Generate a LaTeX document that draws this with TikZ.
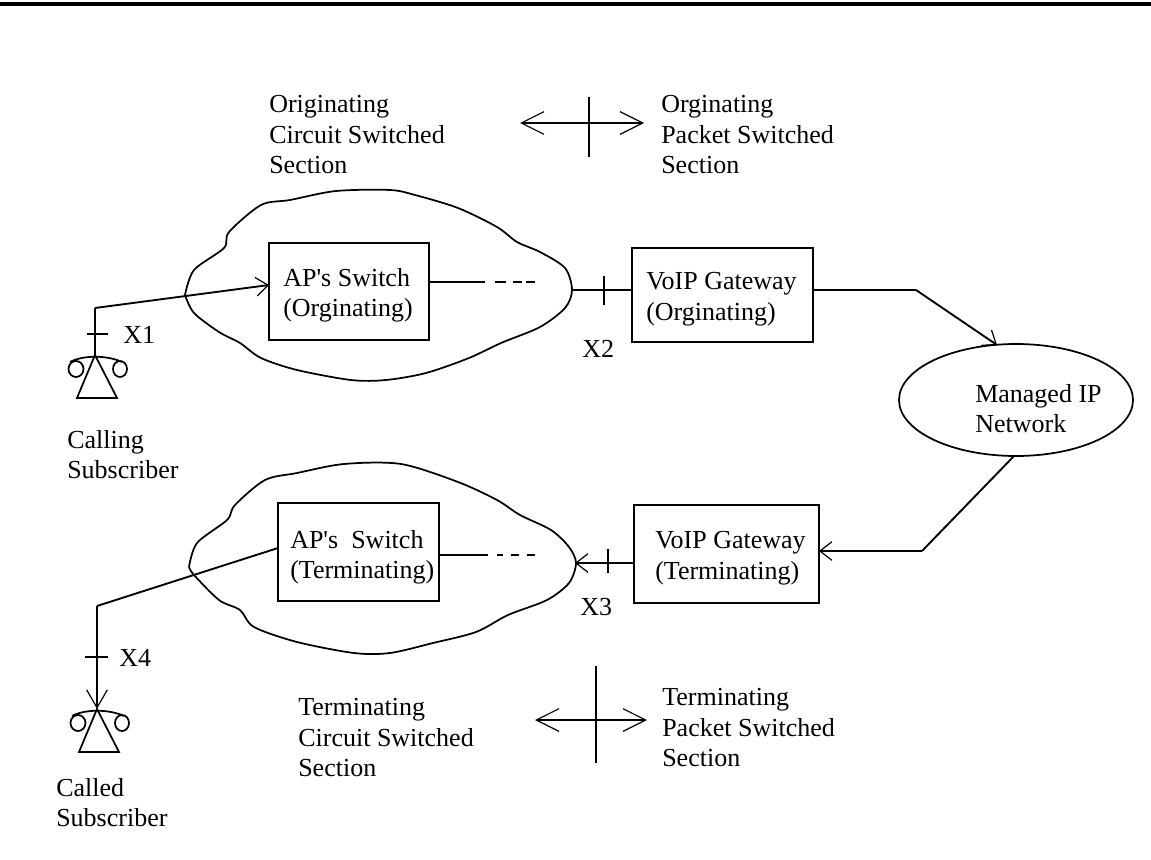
\documentclass[tikz,border=0pt]{standalone}
\usepackage{fontspec}
\setmainfont{Liberation Serif}[Ligatures=TeXOff]
\usetikzlibrary{arrows.meta}
\tikzset{
  x=0.75pt,y=-0.75pt,
  lbl/.style={inner sep=0pt,align=left,anchor=north west,font=\fontsize{19.5}{23}\selectfont},
  boxed/.style={draw,line width=1.5pt,inner sep=0pt,outer sep=0pt,anchor=north west},
  wire/.style={line width=1.4pt},
  tip/.style={-{Straight Barb[length=9pt,width=14pt,line width=0.9pt]}},
  bigtip/.style={-{Straight Barb[length=13.5pt,width=15.5pt,line width=0.9pt]}},
  sectip/.style={{Straight Barb[length=17pt,width=17pt,line width=0.9pt]}-{Straight Barb[length=17pt,width=17pt,line width=0.9pt]}},
  blob/.style={line width=1.3pt,line join=round},
  phonecirc/.style={line width=1.3pt}
}
\newcommand{\phone}[2]{%
  \draw[phonecirc] (#1,#2) -- (#1-18,#2+43) -- (#1+22,#2+43) -- cycle;
  \draw[phonecirc] (#1-25,#2+7) .. controls (#1-12,#2) and (#1+12,#2) .. (#1+27,#2+7);
  \draw[phonecirc] (#1-19,#2+14) ellipse[x radius=7.5,y radius=8];
  \draw[phonecirc] (#1+25,#2+14) ellipse[x radius=7,y radius=8];
}
\begin{document}
\begin{tikzpicture}
\useasboundingbox (0,0) rectangle (1151,859);
\fill[white] (0,0) rectangle (1151,859);
\draw[line width=3pt] (0,4.5) -- (1151,4.5);

% clouds
\draw[blob] plot[smooth,tension=0.5] coordinates {(185,295)(194,270)(224,248)(229,232)(261,205)(290,200)(336,191)(390,190)(415,195)(458,208)(497,227)(517,242)(540,252)(565,268)(572,290)(565,308)(540,327)(501,343)(469,358)(426,373)(386,380)(351,380)(297,370)(261,358)(240,343)(219,332)(194,313)(185,295)};
\draw[blob] plot[smooth,tension=0.5] coordinates {(189,567)(197,543)(227,520)(235,505)(265,480)(297,473)(344,464)(401,464)(458,482)(497,500)(520,515)(551,530)(569,547)(576,563)(569,583)(547,600)(508,615)(476,632)(433,643)(390,653)(354,653)(297,642)(254,627)(240,610)(219,600)(194,575)(189,567)};

% boxes
\node[boxed,minimum width=120pt,minimum height=72.75pt] (sw1) at (269,243) {};
\node[boxed,minimum width=120.75pt,minimum height=73.5pt] (sw2) at (278,503) {};
\node[boxed,minimum width=135.75pt,minimum height=70.5pt] (gw1) at (632,248) {};
\node[boxed,minimum width=138.75pt,minimum height=73.5pt] (gw2) at (634,505) {};
\draw[blob] (1016,400) ellipse[x radius=117,y radius=56];
\coordinate (ipt) at (997,345);
\coordinate (ipb) at (1014,456);

% free ends
\coordinate (p1) at (95,355);
\coordinate (p2) at (97,709);
\coordinate (c1r) at (572,290);
\coordinate (c2r) at (575,563);

% connectors
\draw[wire] (p1) -- (95,308);
\draw[wire,tip] (95,308) -- (sw1.west |- 0,285);
\draw[wire] (sw2.west |- 0,548) -- (97,606);
\draw[wire,bigtip] (97,606) -- (p2);
\draw[wire] (c1r) -- (gw1.west |- c1r);
\draw[wire,tip] (gw2.west |- c2r) -- (c2r);
\draw[wire] (gw1.east |- c1r) -- (916,290);
\draw[wire,tip] (916,290) -- (ipt);
\draw[wire] (ipb) -- (922,551);
\draw[wire,tip] (922,551) -- (gw2.east |- 0,551);
% dash ends
\draw[wire] (sw1.east |- 0,282) -- (485,282) (495,282) -- (506,282) (513,282) -- (522,282) (526,282) -- (535,282);
\draw[wire] (sw2.east |- 0,555) -- (488,555) (497,555) -- (503,555) (511,555) -- (519,555) (527,555) -- (535,555);
% ticks
\draw[wire] (87,334) -- (108,334);
\draw[wire] (85,657) -- (108,657);
\draw[wire] (604,276) -- (604,305);
\draw[wire] (608,549) -- (608,573);

\phone{95}{355}
\phone{97}{709}

% section markers
\draw[wire,sectip] (520,123) -- (644,123);
\draw[wire] (589,97) -- (589,157);
\draw[wire,sectip] (535,720) -- (647,720);
\draw[wire] (596,666) -- (596,763);

% labels
\node[lbl] (t1) at (269,95) {Originating\\Circuit Switched\\Section};
\node[lbl] (t2) at (661,95) {Orginating\\Packet Switched\\Section};
\node[lbl] (t3) at (298,698) {Terminating\\Circuit Switched\\Section};
\node[lbl] (t4) at (662,688) {Terminating\\Packet Switched\\Section};
\node[lbl] (s1) at (283,268) {AP's Switch\\(Orginating)};
\node[lbl] (s2) at (290,530) {AP's~ Switch\\(Terminating)};
\node[lbl] (g1) at (646,272) {VoIP Gateway\\(Orginating)};
\node[lbl] (g2) at (655,531) {VoIP Gateway\\(Terminating)};
\node[lbl] (ip) at (975,384) {Managed IP\\Network};
\node[lbl] (l1) at (67,430) {Calling\\Subscriber};
\node[lbl] (l2) at (56,778) {Called\\Subscriber};
\node[lbl] (x1) at (123,326) {X1};
\node[lbl] (x4) at (119,649) {X4};
\node[lbl] (x2) at (582,340) {X2};
\node[lbl] (x3) at (580,598) {X3};
\end{tikzpicture}
\end{document}
